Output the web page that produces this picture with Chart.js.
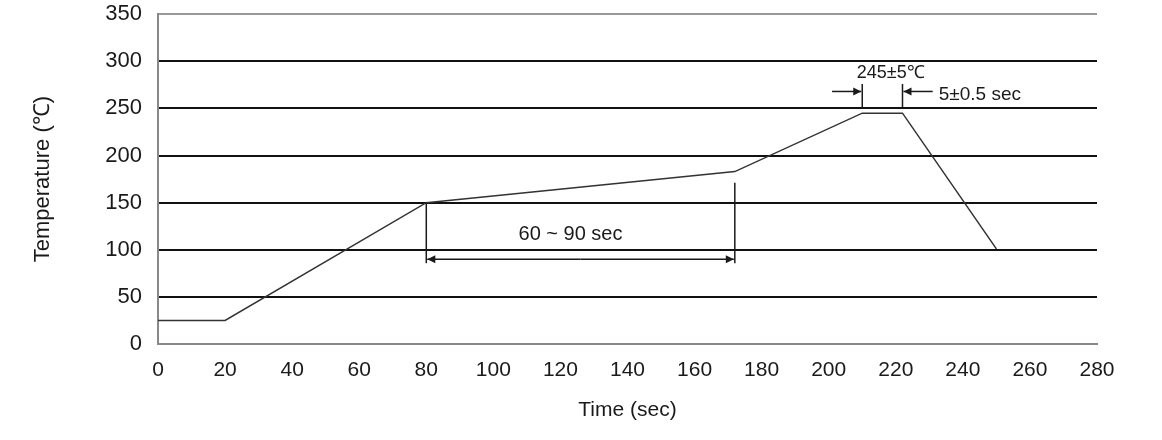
<!DOCTYPE html>
<html>
<head>
<meta charset="utf-8">
<script src="https://cdn.jsdelivr.net/npm/chart.js@4.4.1/dist/chart.umd.min.js"></script>
<style>
  html, body { margin: 0; padding: 0; background: #fff; }
  #wrap { width: 1162px; height: 440px; }
</style>
</head>
<body>
<div id="wrap"><canvas id="profileChart"></canvas></div>
<script>
// reflow profile (time in sec, temperature in ℃)
const timeSec = [0, 20, 80, 172, 210, 222, 250];
const tempC = [25, 25, 150, 183, 245, 245, 101];

const xTicks = [0, 20, 40, 60, 80, 100, 120, 140, 160, 180, 200, 220, 240, 260, 280];
const yTicks = [0, 50, 100, 150, 200, 250, 300, 350];

// soak window marks
const soakTimes = [80, 172];
const soakTops = [150, 171];
const soakArrowTemp = 90;
const soakLabel = "60 ~ 90 sec";
const soakLabelAt = [123, 116];

// peak window marks
const peakTimes = [210, 222];
const peakTickTemps = [251, 276];
const peakArrowTemp = 268;
const peakArrowFrom = [201, 231];
const peakTempLabel = "245±5℃";
const peakTimeLabel = "5±0.5 sec";

const FONT = "'Liberation Sans', Arial, sans-serif";
const INK = "#1a1a1a";

function arrow(ctx, x1, y, x2) {
  const dir = x2 > x1 ? 1 : -1;
  ctx.beginPath();
  ctx.moveTo(x1, y);
  ctx.lineTo(x2, y);
  ctx.stroke();
  ctx.beginPath();
  ctx.moveTo(x2, y);
  ctx.lineTo(x2 - dir * 8, y - 4);
  ctx.lineTo(x2 - dir * 8, y + 4);
  ctx.closePath();
  ctx.fill();
}

const marksPlugin = {
  id: "marks",
  afterDatasetsDraw(chart) {
    const { ctx, scales: { x, y } } = chart;
    ctx.save();
    ctx.strokeStyle = INK;
    ctx.fillStyle = INK;
    ctx.lineWidth = 1.5;

    // soak: two verticals + double arrow + label
    const ya = y.getPixelForValue(soakArrowTemp);
    const xs = soakTimes.map((t) => x.getPixelForValue(t));
    xs.forEach((px, i) => {
      ctx.beginPath();
      ctx.moveTo(px, y.getPixelForValue(soakTops[i]));
      ctx.lineTo(px, ya + 4);
      ctx.stroke();
    });
    const mid = (xs[0] + xs[1]) / 2;
    arrow(ctx, mid, ya, xs[0] + 1);
    arrow(ctx, mid, ya, xs[1] - 1);
    ctx.font = "20px " + FONT;
    ctx.textAlign = "center";
    ctx.textBaseline = "middle";
    ctx.fillText(soakLabel, x.getPixelForValue(soakLabelAt[0]), y.getPixelForValue(soakLabelAt[1]));

    // peak: two short verticals + inward arrows + labels
    const yp = y.getPixelForValue(peakArrowTemp);
    const xp = peakTimes.map((t) => x.getPixelForValue(t));
    xp.forEach((px) => {
      ctx.beginPath();
      ctx.moveTo(px, y.getPixelForValue(peakTickTemps[1]));
      ctx.lineTo(px, y.getPixelForValue(peakTickTemps[0]));
      ctx.stroke();
    });
    arrow(ctx, x.getPixelForValue(peakArrowFrom[0]), yp, xp[0] - 1);
    arrow(ctx, x.getPixelForValue(peakArrowFrom[1]), yp, xp[1] + 1);
    ctx.font = "18px " + FONT;
    ctx.fillText(peakTempLabel, x.getPixelForValue(218.5), y.getPixelForValue(288));
    ctx.textAlign = "left";
    ctx.font = "19px " + FONT;
    ctx.fillText(peakTimeLabel, x.getPixelForValue(232.8), y.getPixelForValue(265));
    ctx.restore();
  },
};

new Chart(document.getElementById("profileChart"), {
  type: "scatter",
  data: {
    datasets: [
      {
        data: timeSec.map((t, i) => ({ x: t, y: tempC[i] })),
        showLine: true,
        borderColor: "#333",
        borderWidth: 1.5,
        pointRadius: 0,
        tension: 0,
      },
    ],
  },
  options: {
    responsive: true,
    maintainAspectRatio: false,
    animation: false,
    layout: { padding: { left: 0, top: 0, right: 65, bottom: 0 } },
    plugins: { legend: { display: false }, tooltip: { enabled: false } },
    scales: {
      x: {
        type: "linear",
        min: 0,
        max: 280,
        afterBuildTicks: (s) => { s.ticks = xTicks.map((v) => ({ value: v })); },
        afterFit: (s) => { s.height = 96; },
        grid: { display: false },
        border: { display: true, color: "#888", width: 2 },
        ticks: { color: INK, padding: 6, font: { family: FONT, size: 21 } },
        title: {
          display: true,
          text: "Time (sec)",
          color: INK,
          font: { family: FONT, size: 21 },
          padding: { top: 0, bottom: 17 },
        },
      },
      y: {
        min: 0,
        max: 350,
        afterBuildTicks: (s) => { s.ticks = yTicks.map((v) => ({ value: v })); },
        afterFit: (s) => { s.width = 158; },
        grid: {
          drawTicks: true,
          tickLength: 15,
          tickColor: "rgba(0,0,0,0)",
          lineWidth: 2,
          color: (c) => (c.tick.value === 350 || c.tick.value === 0 ? "#999" : "#111"),
        },
        border: { color: "#888", width: 2 },
        ticks: { color: INK, padding: 1, font: { family: FONT, size: 22 } },
        title: {
          display: true,
          text: "Temperature (℃)",
          color: INK,
          font: { family: FONT, size: 22 },
          padding: { top: 30, bottom: 0 },
        },
      },
    },
  },
  plugins: [marksPlugin],
});
</script>
</body>
</html>
